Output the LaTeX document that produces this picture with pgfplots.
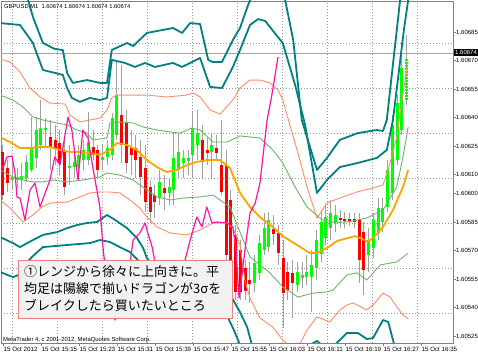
\documentclass[border=0pt]{standalone}
\usepackage{pgfplots}
\pgfplotsset{compat=1.18}
\usepackage{pgfplotstable}
\usepackage{fontspec}
\setmainfont{Liberation Sans}
\newfontfamily\jp{Noto Sans CJK JP}
\definecolor{bandteal}{RGB}{0,128,128}
\definecolor{maorange}{RGB}{255,165,0}
\definecolor{salmontwo}{RGB}{255,140,105}
\definecolor{greenone}{RGB}{110,180,100}
\definecolor{dragon}{RGB}{255,20,160}
\definecolor{bull}{RGB}{0,255,0}
\definecolor{bear}{RGB}{255,0,0}
\definecolor{wick}{RGB}{160,160,160}
\definecolor{gridc}{RGB}{150,150,150}
\definecolor{bidline}{RGB}{150,170,190}
\definecolor{boxborder}{RGB}{240,128,128}
\definecolor{boxfill}{RGB}{242,242,242}

% Heikin-Ashi candles, price in pips above 1.60500
\pgfplotstableread{
i lo hi blo bhi
2 101.8 116.1 107.1 108.7
3 102.9 113.4 107.1 108.7
4 101.8 116.1 107.1 109.2
5 106.1 120.3 108.2 116.6
6 111.3 140.3 112.4 124.5
7 113.4 140.3 118.7 133.4
8 122.9 149.2 125.5 134.5
9 124.0 139.7 133.4 134.5
14 104.5 125.5 113.4 114.5
15 108.2 122.9 114.0 116.6
16 109.7 125.5 114.0 120.3
17 112.4 128.2 117.6 122.9
18 115.0 142.9 117.6 127.1
21 112.4 125.5 117.6 119.2
22 115.0 128.2 119.2 124.0
23 117.6 142.4 120.3 139.7
24 128.2 170.3 130.8 151.8
33 93.9 112.4 97.6 106.1
35 93.9 108.2 100.3 103.4
36 93.9 132.4 101.8 118.7
37 108.2 131.8 112.4 121.8
38 108.2 122.9 116.1 118.7
39 109.7 122.9 117.1 118.7
40 108.2 142.9 120.3 134.5
41 117.6 144.0 125.5 131.8
44 108.2 131.8 121.8 125.5
53 48.2 67.6 52.9 63.4
54 54.5 78.2 58.2 73.9
55 67.6 89.7 70.3 81.8
56 69.2 90.3 71.8 86.1
62 48.2 63.9 51.8 58.7
63 50.3 63.9 55.5 57.1
64 51.8 67.6 56.0 58.7
65 37.6 70.3 56.0 62.4
66 54.5 80.8 60.8 75.5
67 63.9 91.3 68.2 85.0
68 72.9 93.9 76.6 87.6
69 75.5 96.6 81.8 89.7
70 79.7 93.9 85.0 88.7
77 58.7 81.8 67.6 75.5
78 66.0 89.7 71.3 86.1
79 75.5 97.6 79.2 92.4
80 79.7 97.6 85.0 92.4
81 90.3 117.6 92.9 112.4
82 96.6 141.3 100.3 136.1
83 115.0 151.8 117.6 147.6
84 130.8 179.2 133.4 166.0
}\bulltable

\pgfplotstableread{
i lo hi blo bhi
85 146.6 183.4 149.2 171.3
}\lasttable

\pgfplotstableread{
i lo hi blo bhi
0 96.6 125.5 99.2 121.8
1 100.8 117.6 105.5 113.4
10 112.4 138.7 124.5 129.7
11 115.0 136.1 124.0 128.2
12 109.7 133.4 116.1 126.6
13 99.2 128.2 103.4 122.9
19 117.6 133.4 120.3 124.5
20 108.2 125.5 112.4 122.9
25 116.1 167.6 125.5 141.3
26 110.8 143.9 116.1 137.1
27 109.7 133.4 120.3 124.5
28 108.2 130.8 117.6 124.0
29 99.2 128.2 108.7 119.2
30 90.3 125.5 95.5 113.4
31 84.5 107.1 90.3 103.4
32 87.1 104.5 95.5 99.2
34 91.3 109.7 100.3 102.9
42 108.2 136.1 116.6 128.2
43 115.0 129.2 121.3 122.9
45 117.6 130.8 121.3 124.0
46 99.2 138.7 100.8 115.0
47 63.9 122.9 67.6 115.0
48 60.8 101.8 63.9 96.6
49 43.9 83.4 48.2 78.2
50 43.9 75.5 48.2 70.3
51 43.9 65.0 48.9 60.8
52 42.4 63.9 52.4 54.5
57 72.9 88.7 78.7 81.3
58 62.4 83.4 68.7 79.2
59 29.2 75.5 47.6 66.0
60 43.9 63.9 49.2 58.7
61 34.5 65.0 52.9 58.2
71 81.8 91.3 86.1 87.1
72 81.8 90.3 85.5 86.6
73 82.9 89.7 85.5 86.6
74 81.8 89.7 85.0 86.6
75 52.9 89.7 65.0 86.1
76 46.6 85.0 59.7 79.7
}\beartable

\pgfplotsset{
  candle/.style 2 args={only marks, mark=*, mark size=0pt,
    mark options={draw=none, fill=none},
    error bars/.cd, y dir=plus, y explicit, error mark=none,
    error bar style={line width=#1, draw=#2}},
}

\begin{document}
\begin{tikzpicture}
\useasboundingbox (0,0) rectangle (478bp,358bp);
\fill[white] (0,0) rectangle (478bp,358bp);
\begin{axis}[
  at={(1bp,15bp)}, anchor=south west,
  scale only axis, width=452bp, height=342bp,
  xmin=-0.42, xmax=94.74, ymin=21.32, ymax=201.31,
  axis line style={draw=gray, line width=0.8bp},
  xtick={0,8,...,88},
  xticklabels={15 Oct 2012,15 Oct 15:15,15 Oct 15:23,15 Oct 15:31,15 Oct 15:39,15 Oct 15:47,15 Oct 15:55,15 Oct 16:03,15 Oct 16:11,15 Oct 16:19,15 Oct 16:27,15 Oct 16:35},
  ytick={25,40,55,70,85,100,110,125,140,155,170,185},
  yticklabels={1.60525,1.60540,1.60555,1.60570,1.60585,1.60600,1.60610,1.60625,1.60640,1.60655,1.60670,1.60685},
  xtick pos=left, ytick pos=right, yticklabel pos=right,
  tick align=outside, major tick length=3bp,
  tick style={draw=gray, line width=0.6bp},
  xticklabel style={anchor=north west, inner sep=0pt, xshift=0.5bp, yshift=-1bp, font=\fontsize{6.2bp}{7bp}\selectfont},
  yticklabel style={anchor=west, inner sep=0pt, xshift=0bp, font=\fontsize{6bp}{7bp}\selectfont},
  extra x ticks={1.89,11.37,20.84,30.32,39.79,49.26,58.74,68.21,77.68,87.16},
  extra x tick labels={},
  extra x tick style={grid=major, major tick length=0pt, major grid style={draw=gridc, dash pattern=on 1bp off 2bp, line width=0.6bp}},
  extra y ticks={179.2,155.5,131.8,108.2,84.5,60.8,37.1},
  extra y tick labels={},
  extra y tick style={grid=major, major tick length=0pt, major grid style={draw=gridc, dash pattern=on 1bp off 2bp, line width=0.6bp}},
]
% bid line
\addplot[bidline, line width=0.7bp] coordinates {(-0.42,174) (94.74,174)};

% wicks
\addplot[candle={1bp}{wick}] table[x=i, y=lo, y error expr=\thisrow{hi}-\thisrow{lo}] {\bulltable};
\addplot[candle={1bp}{wick}] table[x=i, y=lo, y error expr=\thisrow{hi}-\thisrow{lo}] {\beartable};
\addplot[candle={1bp}{wick}] table[x=i, y=lo, y error expr=\thisrow{hi}-\thisrow{lo}] {\lasttable};
% bodies
\addplot[candle={3bp}{bull}] table[x=i, y=blo, y error expr=\thisrow{bhi}-\thisrow{blo}] {\bulltable};
\addplot[candle={3bp}{bear}] table[x=i, y=blo, y error expr=\thisrow{bhi}-\thisrow{blo}] {\beartable};
\addplot[candle={3bp}{bull, dash pattern=on 2bp off 1bp}] table[x=i, y=blo, y error expr=\thisrow{bhi}-\thisrow{blo}] {\lasttable};

% teal bands (upper outer, upper inner, lower inner, lower outer)
\addplot[bandteal, line width=1.8bp, line join=round] coordinates {(2.5,212.3)(5.3,201.8)(6.3,192.9)(8.4,179.2)(10.9,176.1)(12.6,175.5)(13.5,163.4)(14.7,158.2)(17.7,159.7)(20.4,158.2)(21.9,158.2)(22.9,175.5)(26.1,179.2)(27.4,177.6)(30.3,184.5)(35.8,187.1)(37.7,184.5)(39.4,189.7)(41.5,189.2)(43.2,170.3)(44.2,169.2)(46.1,169.2)(48.4,180.8)(49.9,187.1)(51.6,199.2)(53.1,208.2)(57.9,208.2)(59.4,201.8)(61.1,180.8)(62.9,138.7)(66.1,112.4)(68.2,118.7)(70.9,128.2)(74.7,131.8)(78.7,133.4)(80.0,132.9)(80.8,138.7)(83.6,201.8)(84.6,214.9)};
\addplot[bandteal, line width=1.8bp, line join=round] coordinates {(-0.63,189.7)(3.58,188.7)(6.3,179.2)(8.4,165.0)(12.6,162.4)(13.5,155.5)(14.5,150.3)(16.2,148.2)(18.3,150.3)(20.4,149.2)(21.9,150.3)(22.9,170.3)(25.7,168.7)(27.8,166.6)(29.9,168.7)(32.0,166.6)(35.8,168.7)(37.7,166.6)(41.5,171.3)(43.6,156.1)(46.1,155.5)(48.4,166.6)(49.9,175.5)(52.0,188.7)(53.7,191.8)(55.2,190.8)(57.7,182.9)(58.9,179.2)(61.5,157.1)(63.6,136.1)(66.1,100.3)(68.2,107.1)(70.9,113.9)(74.7,116.1)(78.7,118.7)(80.8,122.9)(82.1,138.7)(84.4,186.1)(85.3,201.8)(85.7,209.7)};
\addplot[bandteal, line width=1.8bp, line join=round] coordinates {(-0.63,77.1)(2.1,73.9)(3.58,71.8)(6.3,75.5)(8.4,78.2)(11.4,79.7)(13.5,81.8)(15.6,83.4)(17.7,84.5)(19.8,85.0)(21.9,88.7)(23.6,86.1)(26.1,81.8)(28.2,76.6)(29.5,71.3)(30.3,66.0)(33.1,57.1)(39.4,51.8)(44.6,49.2)(48.2,45.0)(49.9,37.6)(51.4,29.7)(52.4,20.3)(62.5,17.6)(65.3,21.3)(66.1,22.4)(67.2,20.2)(70.0,20.8)(70.9,22.9)(72.4,26.6)(74.7,26.6)(76.6,23.4)(77.9,23.9)(80.0,33.4)(81.1,32.4)(82.5,19.2)};
\addplot[bandteal, line width=1.8bp, line join=round] coordinates {(-0.63,58.7)(2.1,56.0)(3.2,57.0)(5.1,63.9)(6.1,66.6)(8.4,71.8)(13.5,72.9)(18.3,73.9)(20.4,75.5)(22.5,74.5)(24.6,71.8)(26.7,69.2)(28.2,65.5)(30.9,56.8)(35.2,48.7)(39.4,44.0)(45.7,41.3)(47.4,34.5)(48.6,28.2)(49.9,20.3)(50.5,17.6)};

% 2 sigma
\addplot[salmontwo, line width=0.9bp] coordinates {(-0.63,170.8)(1.47,169.2)(3.58,163.9)(5.68,155.5)(7.79,150.8)(9.89,147.6)(13.05,147.1)(14.1,141.3)(16.2,137.6)(18.3,138.7)(20.4,139.7)(21.9,143.9)(22.9,150.3)(24.0,151.8)(27.4,151.8)(30.3,151.8)(34.5,150.8)(38.7,151.8)(40.0,152.9)(41.5,150.8)(43.6,143.9)(45.7,141.8)(48.4,149.2)(49.9,155.5)(52.0,159.7)(54.1,159.7)(56.2,158.2)(57.9,154.5)(58.9,149.2)(59.8,141.3)(62.1,121.3)(64.0,103.4)(66.1,87.1)(68.2,95.0)(70.9,97.6)(74.5,100.8)(77.9,102.9)(80.0,104.5)(81.1,112.4)(82.9,129.7)(84.0,149.2)(85.3,169.2)};
\addplot[salmontwo, line width=0.9bp] coordinates {(-0.63,96.6)(1.47,92.4)(4.2,85.0)(6.3,88.7)(8.2,92.9)(9.9,95.0)(13.5,95.5)(16.2,98.2)(18.3,100.3)(20.4,100.8)(22.5,100.8)(24.6,100.3)(26.7,96.6)(28.8,92.4)(30.3,87.6)(32.4,82.4)(35.2,79.2)(38.7,78.2)(41.5,80.8)(44.2,84.5)(47.2,84.5)(48.4,81.8)(49.9,72.9)(50.9,54.5)(52.0,45.0)(54.1,34.5)(56.8,29.7)(58.9,22.9)(60.4,19.7)(62.5,20.8)(64.0,28.2)(65.3,32.4)(66.1,35.0)(68.8,32.4)(70.9,38.7)(72.4,41.3)(73.7,42.4)(76.6,38.7)(77.9,41.3)(80.0,47.6)(81.5,45.5)(82.9,40.3)(84.2,36.1)(85.3,34.0)};
% 1 sigma
\addplot[greenone, line width=0.9bp] coordinates {(-0.63,151.8)(2.1,149.2)(4.2,145.5)(6.3,140.3)(8.4,138.7)(11.4,137.1)(13.5,136.1)(15.6,133.4)(17.7,131.8)(18.9,128.2)(21.9,129.2)(22.5,137.1)(24.6,137.6)(27.4,137.1)(29.5,135.0)(32.4,133.4)(35.2,132.4)(37.3,131.8)(39.8,134.5)(41.5,133.4)(44.2,127.1)(47.2,127.1)(49.9,130.3)(54.1,129.2)(56.8,122.9)(58.9,116.1)(61.5,103.4)(64.0,92.9)(67.2,86.1)(70.3,84.5)(73.5,85.5)(76.6,87.1)(80.0,91.3)(82.9,103.4)(84.2,119.2)(85.3,135.0)};
\addplot[greenone, line width=0.9bp] coordinates {(-0.63,112.4)(2.1,108.7)(4.2,107.1)(6.3,106.1)(8.4,106.1)(10.5,107.1)(13.5,106.1)(16.8,107.1)(20.4,108.7)(21.9,110.8)(24.6,109.7)(27.4,107.1)(30.3,101.8)(32.4,98.2)(35.2,96.6)(37.9,97.6)(41.5,98.2)(44.2,99.2)(47.8,92.9)(49.9,79.7)(52.0,66.6)(56.2,58.2)(58.9,50.8)(62.1,45.5)(65.3,47.6)(68.2,48.2)(69.5,49.2)(72.4,57.1)(74.5,58.2)(76.6,54.5)(79.4,62.4)(82.9,64.0)(85.3,68.5)};
% moving average
\addplot[maorange, line width=1.8bp, line join=round] coordinates {(-0.63,129.7)(1.47,127.1)(3.58,123.9)(5.68,123.9)(7.79,124.5)(9.89,124.5)(12.0,122.9)(14.1,121.8)(16.2,121.8)(18.3,121.3)(20.4,120.3)(22.5,122.9)(24.0,126.6)(26.1,125.5)(28.2,122.9)(30.3,117.6)(32.4,113.9)(34.5,111.3)(36.6,112.4)(38.7,115.0)(40.8,116.6)(42.9,117.6)(45.7,117.6)(47.8,113.4)(49.9,100.3)(52.0,92.9)(54.1,87.6)(56.8,82.4)(58.9,77.6)(61.9,72.9)(64.6,68.7)(66.1,68.7)(68.2,71.3)(70.3,75.0)(74.1,77.6)(75.6,76.1)(76.8,74.5)(78.3,77.6)(80.0,82.4)(82.1,91.3)(84.2,103.4)(85.3,112.4)};
% dragon
\addplot[dragon, line width=1.2bp, line join=round] coordinates {(-0.63,115.0)(0,113.4)(0.84,119.2)(1.89,119.7)(2.53,110.8)(2.95,98.2)(3.58,97.6)(4.63,86.1)(5.68,101.8)(6.74,105.5)(7.79,92.9)(9.89,107.1)(10.9,119.2)(12.0,115.0)(13.7,140.3)(14.5,133.4)(15.8,107.1)(16.8,133.4)(17.9,129.2)(18.9,113.9)(20.4,92.9)(21.1,70.3)(22.1,49.2)(23.6,33.4)(25.7,43.9)(27.4,75.5)(28.8,79.2)(29.9,84.5)(30.5,79.2)(31.4,71.8)(33.1,49.2)(36.2,43.9)(39.4,75.5)(40.8,87.6)(41.9,82.4)(42.9,92.9)(44.0,84.5)(45.1,85.0)(47.2,84.5)(48.4,82.4)(49.05,70.3)(49.7,45.0)(50.3,57.1)(51.2,75.5)(52.0,89.7)(53.1,95.0)(54.1,105.5)(55.6,138.7)(56.6,151.8)(57.9,171.8)};
\end{axis}
% current price tag
\node[fill=black, text=white, anchor=west, inner xsep=1bp, inner ysep=1.2bp, font=\fontsize{6bp}{7bp}\selectfont] at (454bp,305.2bp) {1.60674};
% header and footer
\node[anchor=base west, inner sep=0pt, font=\fontsize{5.8bp}{7bp}\selectfont] at (4bp,349bp) {GBPUSD,M1\ \ 1.60674 1.60674 1.60674 1.60674};
\node[anchor=base west, inner sep=0pt, font=\fontsize{5.9bp}{7bp}\selectfont] at (3bp,17bp) {MetaTrader 4, c 2001-2012, MetaQuotes Software Corp.};
% annotation box
\draw[draw=boxborder, fill=boxfill, line width=0.8bp] (18bp,40bp) rectangle (232bp,98bp);
\node[anchor=base west, inner sep=0pt, font=\jp\fontsize{13bp}{16bp}\selectfont] at (24bp,81.5bp) {①レンジから徐々に上向きに。平};
\node[anchor=base west, inner sep=0pt, font=\jp\fontsize{13bp}{16bp}\selectfont] at (24bp,64bp) {均足は陽線で揃いドラゴンが3σを};
\node[anchor=base west, inner sep=0pt, font=\jp\fontsize{13bp}{16bp}\selectfont] at (24bp,47.5bp) {ブレイクしたら買いたいところ};
\end{tikzpicture}
\end{document}
